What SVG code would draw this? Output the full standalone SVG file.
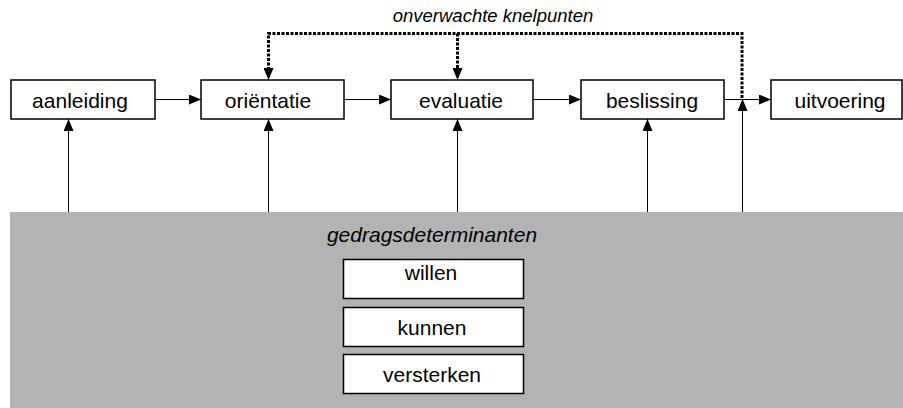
<svg xmlns="http://www.w3.org/2000/svg" width="903" height="408" viewBox="0 0 903 408">
<style>
.box{fill:#fff;stroke:#000;stroke-width:1.5}
.t{font-family:"Liberation Sans",Arial,sans-serif;font-size:21px;fill:#000;text-anchor:middle}
.it{font-family:"Liberation Sans",Arial,sans-serif;font-style:italic;fill:#000;text-anchor:middle}
.ln{fill:none;stroke:#000;stroke-width:1}
.dot{fill:none;stroke:#000;stroke-width:3;stroke-dasharray:3 1.5}
</style>
<defs>
<marker id="ah" viewBox="0 0 12 10" refX="12" refY="5" markerWidth="12" markerHeight="10" markerUnits="userSpaceOnUse" orient="auto">
<path d="M0,0 L12,5 L0,10 z" fill="#000"/>
</marker>
<marker id="ahd" viewBox="0 0 12 10" refX="0" refY="5" markerWidth="12" markerHeight="10" markerUnits="userSpaceOnUse" orient="auto">
<path d="M0,0 L12,5 L0,10 z" fill="#000"/>
</marker>
</defs>
<rect width="903" height="408" fill="#fff"/>
<g id="gedragsdeterminanten">
<rect x="10" y="212" width="893" height="196" fill="#b3b3b3"/>
<text class="it" x="432" y="242" font-size="21">gedragsdeterminanten</text>
</g>
<g id="willen"><rect class="box" x="343.5" y="259.5" width="180" height="39"/><text class="t" x="431" y="280">willen</text></g>
<g id="kunnen"><rect class="box" x="343.5" y="307.5" width="180" height="39"/><text class="t" x="432" y="335">kunnen</text></g>
<g id="versterken"><rect class="box" x="343.5" y="354.5" width="180" height="39"/><text class="t" x="432" y="382">versterken</text></g>
<g id="aanleiding"><rect class="box" x="11" y="80" width="144" height="39"/><text class="t" x="80" y="108">aanleiding</text></g>
<g id="orientatie"><rect class="box" x="201" y="80" width="143" height="39"/><text class="t" x="268" y="108">oriëntatie</text></g>
<g id="evaluatie"><rect class="box" x="391" y="80" width="142" height="39"/><text class="t" x="461" y="108">evaluatie</text></g>
<g id="beslissing"><rect class="box" x="581" y="80" width="143" height="39"/><text class="t" x="652" y="108">beslissing</text></g>
<g id="uitvoering"><rect class="box" x="771" y="80" width="131" height="39"/><text class="t" x="840" y="108">uitvoering</text></g>
<g id="connectors">
<path class="ln" d="M155,99.5 H201" marker-end="url(#ah)"/>
<path class="ln" d="M344,99.5 H391" marker-end="url(#ah)"/>
<path class="ln" d="M533,99.5 H581" marker-end="url(#ah)"/>
<path class="ln" d="M724,99.5 H771" marker-end="url(#ah)"/>
<path class="ln" d="M68.5,212 V119" marker-end="url(#ah)"/>
<path class="ln" d="M268.5,212 V119" marker-end="url(#ah)"/>
<path class="ln" d="M457.5,212 V119" marker-end="url(#ah)"/>
<path class="ln" d="M647.5,212 V119" marker-end="url(#ah)"/>
<path class="dot" d="M742,98 V33.5 H268.5 V68" marker-end="url(#ahd)"/>
<path class="dot" d="M457.5,33.5 V68" marker-end="url(#ahd)"/>
<path class="ln" d="M742.5,212 V99" marker-end="url(#ah)"/>
<text class="it" x="493" y="22" font-size="18.5">onverwachte knelpunten</text>
</g>
</svg>
